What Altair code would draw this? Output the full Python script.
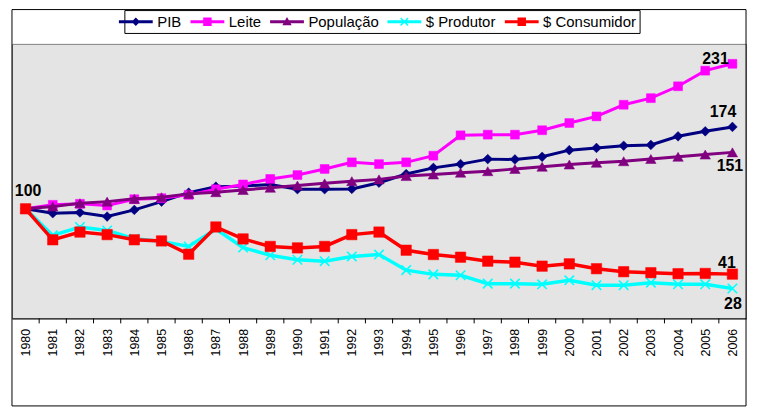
import altair as alt
import pandas as pd

years = list(range(1980, 2007))
series_names = ["PIB", "Leite", "População", "$ Produtor", "$ Consumidor"]

pib = [100, 96, 96.7, 93, 99, 106.5, 114.6, 120, 120.5, 122, 117.7, 117.7, 118, 123.6,
       131.4, 137, 140.4, 144.9, 144.6, 147, 153, 155, 157, 157.7, 165.5, 170, 174]
leite = [100, 103.6, 104.5, 103, 108.7, 109.6, 112.6, 117.7, 122, 127, 130.5, 136, 142, 140.4,
         142, 148, 166.4, 167, 167, 171, 177.5, 183.5, 194, 200, 210.7, 224.8, 231]
populacao = [100, 102, 105, 106.5, 109, 110.5, 113.5, 115, 117, 119, 121, 123, 125, 126.6,
             129.6, 131, 132.6, 134, 136, 138, 140, 141.6, 143, 145, 147, 149, 151]
produtor = [100, 76, 83.6, 80.5, 73, 70.6, 66, 81.7, 65, 58, 54, 52.7, 57, 58.7,
            44.6, 40.8, 40, 32.4, 32.4, 31.8, 35.4, 31, 31, 33.3, 31.8, 31.8, 28]
consumidor = [100, 72, 79, 76.7, 72, 71, 59, 83.6, 72.8, 66, 64.7, 66, 76.7, 79,
              62.6, 58.7, 56.3, 52.7, 51.8, 48.2, 50.3, 45.9, 43.2, 42.3, 41.4, 41.6, 41]

colors = ["#000080", "#FF00FF", "#800080", "#00FFFF", "#FF0000"]

ann_series = ["PIB", "Leite", "PIB", "População", "$ Consumidor", "$ Produtor"]
ann_year = [1980, 2006, 2006, 2006, 2006, 2006]
ann_text = ["100", "231", "174", "151", "41", "28"]

values = {"PIB": pib, "Leite": leite, "População": populacao,
          "$ Produtor": produtor, "$ Consumidor": consumidor}
rows = []
for s in series_names:
    for yr, v in zip(years, values[s]):
        rows.append({"series": s, "year": yr, "value": v})
df = pd.DataFrame(rows)

W, H = 738, 276
FONT = "Liberation Sans"

xscale = alt.Scale(domain=[1979.5, 2006.5], nice=False, zero=False)
yscale = alt.Scale(domain=[1, 249], nice=False, zero=False)
x_axis = alt.Axis(values=years, format="d", labelAngle=270, tickSize=0, labelPadding=10,
                  labelFontSize=12.5, labelFont=FONT, labelColor="black", domainColor="black",
                  domainWidth=1, grid=False, title=None, labelFlush=False, labelOverlap=False)
X = alt.X("year:Q", scale=xscale, axis=x_axis)
Y = alt.Y("value:Q", scale=yscale, axis=None)

layers = []

# outer frame
frame = alt.Chart(pd.DataFrame({"k": [0]})).mark_rect(
    filled=False, stroke="black", strokeWidth=1
).encode(x=alt.value(0), x2=alt.value(W), y=alt.value(-34.5), y2=alt.value(H + 88))
layers.append(frame)

# category boundary ticks
tick_df = pd.DataFrame({"year": [y + 0.5 for y in years[:-1]]})
ticks = alt.Chart(tick_df).mark_rule(color="black", strokeWidth=1).encode(
    x=X, y=alt.value(H), y2=alt.value(H + 5))
layers.append(ticks)

point_shapes = ["diamond", "square", "triangle-up", "M-1,-1L1,1M-1,1L1,-1", "square"]
point_sizes = [95, 80, 110, 90, 110]
line_widths = [3, 3, 3, 3.5, 3.5]

base = alt.Chart(df)
for s, c, shp, sz, lw in zip(series_names, colors, point_shapes, point_sizes, line_widths):
    f = base.transform_filter(alt.FieldEqualPredicate(field="series", equal=s))
    layers.append(f.mark_line(color=c, strokeWidth=lw).encode(x=X, y=Y))
    if shp.startswith("M"):
        pm = f.mark_point(shape=shp, size=sz, filled=False, stroke=c, strokeWidth=1.6, opacity=1)
    else:
        pm = f.mark_point(shape=shp, size=sz, filled=True, fill=c, stroke=c, strokeWidth=0.5, opacity=1)
    layers.append(pm.encode(x=X, y=Y))

# legend (symbols combine line + marker)
legend_paths = [
    "M-2,-0.18H-0.32L0,-0.5L0.32,-0.18H2V0.18H0.32L0,0.5L-0.32,0.18H-2Z",
    "M-2,-0.18H-0.5V-0.5H0.5V-0.18H2V0.18H0.5V0.5H-0.5V0.18H-2Z",
    "M-2,-0.18H-0.214L0,-0.55L0.214,-0.18H2V0.18H0.423L0.55,0.4H-0.55L-0.423,0.18H-2Z",
    "M-2,-0.18H2V0.18H-2Z M-0.5,-0.38L-0.38,-0.5L0.5,0.38L0.38,0.5Z M0.38,-0.5L0.5,-0.38L-0.38,0.5L-0.5,0.38Z",
    "M-2,-0.18H-0.5V-0.5H0.5V-0.18H2V0.18H0.5V0.5H-0.5V0.18H-2Z",
]
leg = alt.Legend(orient="none", legendX=113, legendY=-34, direction="horizontal", columns=5,
                 title=None, strokeColor="black", fillColor="white", padding=3,
                 labelFontSize=15, labelFont=FONT, labelColor="black",
                 symbolSize=289, symbolStrokeWidth=0, symbolOpacity=1,
                 labelOffset=13, columnPadding=8)
legend_layer = base.transform_filter("datum.year < 0").mark_point(filled=True, opacity=1).encode(
    x=X, y=Y,
    color=alt.Color("series:N", scale=alt.Scale(domain=series_names, range=colors), legend=leg),
    shape=alt.Shape("series:N", scale=alt.Scale(domain=series_names, range=legend_paths), legend=leg),
)
layers.append(legend_layer)

# value annotations
ann_df = pd.DataFrame({"series": ann_series, "year": ann_year, "text": ann_text})
ann_df = ann_df.merge(df, on=["series", "year"])
offsets = [(2.5, -18), (-17, -5), (-9.5, -14.5), (-2.5, 13.5), (-5.5, -11.5), (0.5, 15.5)]
for t, (dx, dy) in zip(ann_text, offsets):
    layers.append(
        alt.Chart(ann_df).transform_filter(alt.FieldEqualPredicate(field="text", equal=t))
        .mark_text(font=FONT, fontSize=16, fontWeight="bold", color="black",
                   align="center", baseline="middle", dx=dx, dy=dy)
        .encode(x=X, y=Y, text="text:N")
    )

chart = alt.layer(*layers).properties(
    width=W, height=H,
    autosize=alt.AutoSizeParams(type="none"),
    padding={"left": 4, "top": 35, "right": 4, "bottom": 90},
    background="white",
).configure_view(fill="#e4e4e4", stroke="#808080", strokeWidth=1)

chart.save("out.html", embed_options={"renderer": "svg", "actions": False})
